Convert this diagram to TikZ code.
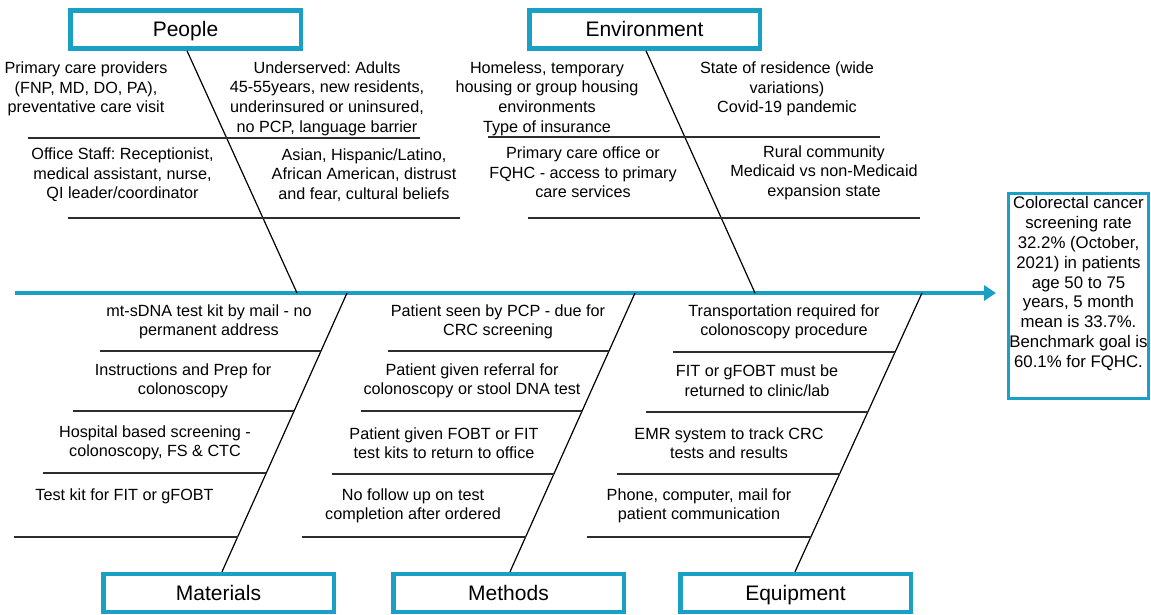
\documentclass[tikz,border=0pt]{standalone}
\usepackage{fontspec}
\setmainfont{Liberation Sans}
\usetikzlibrary{arrows.meta}
\definecolor{tealc}{RGB}{25,160,196}
\definecolor{ribc}{RGB}{45,45,45}
\frenchspacing
\begin{document}
\begin{tikzpicture}[x=1pt,y=-1pt,
  cat/.style={draw=tealc,line width=4.5pt,fill=white,minimum width=230.5pt,minimum height=38pt,inner sep=0pt,text height=15pt,text depth=1pt,font=\fontsize{21}{25}\selectfont},
  txt/.style={align=center,inner sep=0pt,font=\fontsize{16.2}{19.6}\selectfont},
  bone/.style={line width=1.2pt,black},
  rib/.style={line width=1.5pt,ribc},
  spine/.style={line width=3.5pt,draw=tealc,-{Triangle[length=12pt,width=15pt]}},
]
\useasboundingbox (0,0) rectangle (1151,614);

% spine
\coordinate (tail) at (15,293);
\coordinate (head) at (996,293);
\draw[spine] (tail) -- (head);

% spine junctions
\coordinate (jP) at (297,293);
\coordinate (jE) at (755,293);
\coordinate (jM) at (347,293);
\coordinate (jMe) at (635,293);
\coordinate (jEq) at (922,293);

% category boxes
\node[cat] (people) at (185.5,29.5) {People};
\node[cat] (env) at (644.5,29.5) {Environment};
\node[cat] (mat) at (218.5,593) {Materials};
\node[cat] (meth) at (508.5,593) {Methods};
\node[cat] (equip) at (795.5,593) {Equipment};

% bones
\draw[bone] ([xshift=1.5pt]people.south) -- (jP);
\draw[bone] ([xshift=1.5pt]env.south) -- (jE);
\draw[bone] (jM) -- ([xshift=3.5pt]mat.north);
\draw[bone] (jMe) -- ([xshift=1.5pt]meth.north);
\draw[bone] (jEq) -- ([xshift=-0.5pt]equip.north);

% upper ribs
\draw[rib] (28,138) -- (420,138);
\draw[rib] (68,218) -- (460,218);
\draw[rib] (488,137) -- (880,137);
\draw[rib] (528,218) -- (920,218);

% lower ribs - materials
\draw[rib] (100,351) -- (321,351);
\draw[rib] (73,411) -- (294,411);
\draw[rib] (43,473) -- (266.4,473);
\draw[rib] (14,537) -- (237.7,537);
% methods
\draw[rib] (388,351) -- (609,351);
\draw[rib] (361,411) -- (582,411);
\draw[rib] (332,474) -- (553.9,474);
\draw[rib] (302,537) -- (525.7,537);
% equipment
\draw[rib] (673,352) -- (895,352);
\draw[rib] (646,412) -- (867.8,412);
\draw[rib] (617,474) -- (839.6,474);
\draw[rib] (587,537) -- (811,537);

% people texts
\node[txt] (p1) at (86,89) {Primary care providers\\(FNP, MD, DO, PA),\\preventative care visit};
\node[txt] (p2) at (327,98.5) {Underserved: Adults\\45-55years, new residents,\\underinsured or uninsured,\\no PCP, language barrier};
\node[txt] (p3) at (122.5,175) {Office Staff: Receptionist,\\medical assistant, nurse,\\QI leader/coordinator};
\node[txt] (p4) at (364,175) {Asian, Hispanic/Latino,\\African American, distrust\\and fear, cultural beliefs};

% environment texts
\node[txt] (e1) at (547,98.5) {Homeless, temporary\\housing or group housing\\environments\\Type of insurance};
\node[txt] (e2) at (787,89) {State of residence (wide\\variations)\\Covid-19 pandemic};
\node[txt] (e3) at (583,172.5) {Primary care office or\\FQHC - access to primary\\care services};
\node[txt] (e4) at (824,172.5) {Rural community\\Medicaid vs non-Medicaid\\expansion state};

% materials texts
\node[txt] (m1) at (209,322) {mt-sDNA test kit by mail - no\\permanent address};
\node[txt] (m2) at (183,381) {Instructions and Prep for\\colonoscopy};
\node[txt] (m3) at (155,443) {Hospital based screening -\\colonoscopy, FS \& CTC};
\node[txt] (m4) at (124.5,496) {Test kit for FIT or gFOBT};

% methods texts
\node[txt] (me1) at (498,322) {Patient seen by PCP - due for\\CRC screening};
\node[txt] (me2) at (472,381) {Patient given referral for\\colonoscopy or stool DNA test};
\node[txt] (me3) at (444,443) {Patient given FOBT or FIT\\test kits to return to office};
\node[txt] (me4) at (413,506) {No follow up on test\\completion after ordered};

% equipment texts
\node[txt] (q1) at (784,322) {Transportation required for\\colonoscopy procedure};
\node[txt] (q2) at (757,381) {FIT or gFOBT must be\\returned to clinic/lab};
\node[txt] (q3) at (729,443) {EMR system to track CRC\\tests and results};
\node[txt] (q4) at (699,506) {Phone, computer, mail for\\patient communication};

% result
\node[draw=tealc,line width=3.3pt,minimum width=139.6pt,minimum height=204.6pt,inner sep=0pt] (resbox) at (1078.5,296) {};
\node[align=center,inner sep=0pt,font=\fontsize{16.8}{19.85}\selectfont] (restext) at (1078.5,283.5) {Colorectal cancer\\screening rate\\32.2\% (October,\\2021) in patients\\age 50 to 75\\years, 5 month\\mean is 33.7\%.\\Benchmark goal is\\60.1\% for FQHC.};
\end{tikzpicture}
\end{document}
